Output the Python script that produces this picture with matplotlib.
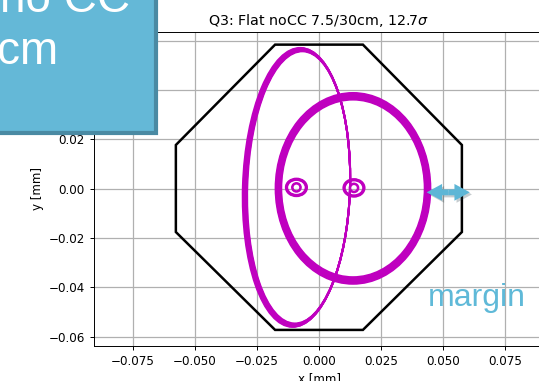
import matplotlib
matplotlib.use("Agg")
import matplotlib.pyplot as plt
import matplotlib.patheffects as pe
from matplotlib.patches import Ellipse, Polygon, Rectangle, FancyArrow

# Aperture (octagon corners) [mm]
octagon_x = [-0.0177, 0.0177, 0.0576, 0.0576, 0.0177, -0.0177, -0.0577, -0.0577]
octagon_y = [0.0584, 0.0584, 0.0177, -0.0176, -0.0573, -0.0573, -0.0176, 0.0177]

# Tall beam envelope (several traces), full width / height [mm]
tall_cx = [-0.0082, -0.0083, -0.0084, -0.0085, -0.0086, -0.0087, -0.0088, -0.0089, -0.0091]
tall_cy = 0.0005
tall_w = [0.0414, 0.0416, 0.0418, 0.0420, 0.0422, 0.0424, 0.0426, 0.0429, 0.0432]
tall_h = [0.1104, 0.1108, 0.1111, 0.1115, 0.1118, 0.1122, 0.1125, 0.1129, 0.1132]
tall_angle = -1.8

# Wide beam envelope (several traces)
wide_cx = 0.0137
wide_cy = 0.0001
wide_w = [0.0578, 0.0584, 0.0590, 0.0596, 0.0601, 0.0607, 0.0613, 0.0619, 0.0624]
wide_h = [0.0720, 0.0727, 0.0734, 0.0740, 0.0747, 0.0754, 0.0760, 0.0767, 0.0774]

# Beam spots (inner + outer rings)
spot_x = [-0.0091, 0.0141]
spot_y = [0.0005, 0.0003]
ring_w = [0.0030, 0.0036, 0.0074, 0.0078, 0.0082, 0.0086]
ring_h = [0.0030, 0.0036, 0.0060, 0.0064, 0.0068, 0.0072]

# Margin arrow: tips [mm]
arrow_x = [0.0434, 0.0608]
arrow_y = -0.0015

xticks = [-0.075, -0.050, -0.025, 0.000, 0.025, 0.050, 0.075]
yticks = [-0.06, -0.04, -0.02, 0.00, 0.02, 0.04, 0.06]

plt.rcParams.update({
    "font.size": 8.6,
    "axes.linewidth": 0.7,
    "xtick.major.size": 3.0,
    "ytick.major.size": 3.0,
    "xtick.major.width": 0.7,
    "ytick.major.width": 0.7,
})

W, H = 539, 381
fig = plt.figure(figsize=(W / 100, H / 100), dpi=100)

# axes box placed in pixels (right edge runs off the crop)
left, right, top, bottom = 94, 544, 32.3, 345.7
ax = fig.add_axes([left / W, 1 - bottom / H, (right - left) / W, (bottom - top) / H])
ax.set_xlim(-0.0907, 0.0907)
ax.set_ylim(-0.0637, 0.0634)
ax.set_xticks(xticks)
ax.set_yticks(yticks)
ax.grid(True, color="#b0b0b0", lw=0.9)
ax.set_axisbelow(True)
ax.set_title(r"Q3: Flat noCC 7.5/30cm, 12.7$\sigma$", fontsize=10.3, pad=5)
ax.set_xlabel("x [mm]", labelpad=3)
ax.set_ylabel("y [mm]", labelpad=3)

mag = "#bf00bf"

# aperture
ax.add_patch(Polygon(list(zip(octagon_x, octagon_y)), closed=True, fill=False,
                     ec="black", lw=1.8, zorder=3))

# envelopes
for cx, w, h in zip(tall_cx, tall_w, tall_h):
    ax.add_patch(Ellipse((cx, tall_cy), w, h, angle=tall_angle, fill=False,
                         ec=mag, lw=1.4, zorder=4))
for w, h in zip(wide_w, wide_h):
    ax.add_patch(Ellipse((wide_cx, wide_cy), w, h, fill=False,
                         ec=mag, lw=1.4, zorder=4))

# spots
for sx, sy in zip(spot_x, spot_y):
    for w, h in zip(ring_w, ring_h):
        ax.add_patch(Ellipse((sx, sy), w, h, fill=False, ec=mag, lw=1.3, zorder=4))

# margin arrow: two halves pointing outward from the middle
mid = (arrow_x[0] + arrow_x[1]) / 2
shadow = [pe.SimplePatchShadow(offset=(1.5, -1.5), alpha=0.25), pe.Normal()]
for tip in arrow_x:
    a = FancyArrow(mid, arrow_y, tip - mid, 0, width=0.0024, head_width=0.0068,
                   head_length=0.0062, length_includes_head=True,
                   fc="#5db6d6", lw=0, zorder=6, clip_on=False)
    a.set_path_effects(shadow)
    ax.add_patch(a)

fig.text(428 / W, 1 - 306 / H, "margin", fontsize=23, color="#5fb9d8",
         family="Liberation Sans", va="baseline", ha="left")

# slide label box (top left, partly cut off)
box = Rectangle((-10 / W, 1 - 133 / H), 166 / W, 143 / H, transform=fig.transFigure,
                fc="#64b8d7", ec="#4a8aa3", lw=3, zorder=10)
box.set_path_effects([pe.SimplePatchShadow(offset=(1.5, -1.5), alpha=0.3), pe.Normal()])
fig.patches.append(box)
fig.text(0 / W, 1 - 12 / H, "no CC", fontsize=33, color="white",
         family="Liberation Sans", va="baseline", ha="left", zorder=11)
fig.text(-3 / W, 1 - 63.5 / H, "cm", fontsize=33, color="white",
         family="Liberation Sans", va="baseline", ha="left", zorder=11)

fig.savefig("out.png", dpi=100)
